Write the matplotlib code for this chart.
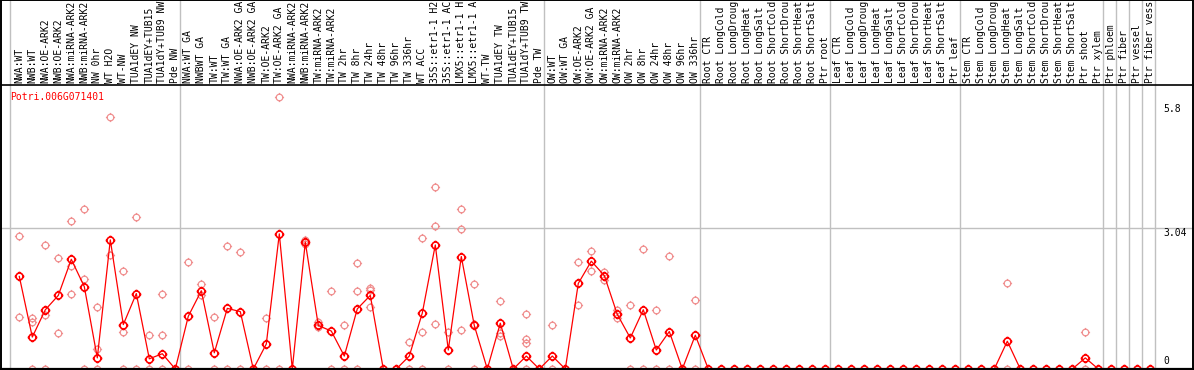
import matplotlib
matplotlib.use("Agg")
import matplotlib.pyplot as plt
from matplotlib.path import Path
import numpy as np

gene = "Potri.006G071401"

# sample labels as they show in the header (cut at 14 characters)
labels = [
    "NWA:WT", "NWB:WT", "NWA:OE-ARK2", "NWB:OE-ARK2", "NWA:miRNA-ARK2", "NWB:miRNA-ARK2",
    "NW 0hr", "WT H2O", "WT-NW", "TUA1dEY NW", "TUA1dEY+TUB15", "TUA1dY+TUB9 NW", "Pde NW",
    "NWA:WT GA", "NWBWT GA", "TW:WT", "TW:WT GA", "NWA:OE-ARK2 GA", "NWB:OE-ARK2 GA",
    "TW:OE-ARK2", "TW:OE-ARK2 GA", "NWA:miRNA-ARK2", "NWB:miRNA-ARK2", "TW:miRNA-ARK2",
    "TW:miRNA-ARK2", "TW 2hr", "TW 8hr", "TW 24hr", "TW 48hr", "TW 96hr", "TW 336hr", "WT ACC",
    "35S::etr1-1 H2", "35S::etr1-1 AC", "LMX5::etr1-1 H", "LMX5::etr1-1 A", "WT-TW",
    "TUA1dEY TW", "TUA1dEY+TUB15", "TUA1dY+TUB9 TW", "Pde TW",
    "OW:WT", "OW:WT GA", "OW:OE-ARK2", "OW:OE-ARK2 GA", "OW:miRNA-ARK2", "OW:miRNA-ARK2",
    "OW 2hr", "OW 8hr", "OW 24hr", "OW 48hr", "OW 96hr", "OW 336hr",
    "Root CTR", "Root LongCold", "Root LongDroug", "Root LongHeat", "Root LongSalt",
    "Root ShortCold", "Root ShortDrou", "Root ShortHeat", "Root ShortSalt", "Ptr root",
    "Leaf CTR", "Leaf LongCold", "Leaf LongDroug", "Leaf LongHeat", "Leaf LongSalt",
    "Leaf ShortCold", "Leaf ShortDrou", "Leaf ShortHeat", "Leaf ShortSalt", "Ptr leaf",
    "Stem CTR", "Stem LongCold", "Stem LongDroug", "Stem LongHeat", "Stem LongSalt",
    "Stem ShortCold", "Stem ShortDrou", "Stem ShortHeat", "Stem ShortSalt", "Ptr shoot",
    "Ptr xylem", "Ptr phloem", "Ptr fiber", "Ptr vessel", "Ptr fiber vess",
]

# mean expression per sample
means = [
    2.00, 0.69, 1.28, 1.59, 2.37, 1.78, 0.24, 2.79, 0.96, 1.63, 0.22, 0.33, 0.0,
    1.14, 1.69, 0.35, 1.31, 1.24, 0.0, 0.54, 2.92, 0.0, 2.74, 0.94, 0.82, 0.28, 1.30,
    1.59, 0.0, 0.0, 0.28, 1.21, 2.68, 0.41, 2.43, 0.94, 0.0, 0.99, 0.0, 0.28, 0.0,
    0.28, 0.0, 1.85, 2.33, 2.02, 1.18, 0.67, 1.28, 0.41, 0.81, 0.0, 0.73,
    0, 0, 0, 0, 0, 0, 0, 0, 0, 0,
    0, 0, 0, 0, 0, 0, 0, 0, 0, 0,
    0, 0, 0, 0.60, 0, 0, 0, 0, 0, 0.24, 0,
    0, 0, 0, 0,
]

# replicate values per sample
reps = [
    [2.87, 1.13], [1.10, 1.01, 0], [2.67, 1.16, 0], [2.39, 0.78], [3.19, 2.23, 1.62],
    [3.45, 1.95, 0], [1.35, 0.43, 0], [5.44, 2.46], [2.11, 0.80, 0], [3.29, 0],
    [0.74, 0], [1.63, 0.74, 0], [], [2.31, 0], [1.83, 1.60], [1.13, 0], [2.65, 0],
    [2.52, 0], [], [1.11, 0], [5.87, 0], [], [2.79, 2.71], [1.01, 0.90], [1.68, 0],
    [0.94, 0], [2.28, 1.68, 0], [1.75, 1.70, 1.35], [], [], [0.58, 0], [2.84, 0.80, 0],
    [3.93, 3.10, 0.98], [0.80, 0], [3.45, 3.02, 0.84], [1.84, 0.97, 0], [],
    [1.47, 0.78, 0.71], [], [1.18, 0.65, 0.57, 0], [], [0.94, 0], [],
    [2.31, 1.38], [2.55, 2.12], [2.10, 1.92], [1.28, 1.10], [1.39, 0], [2.60, 0],
    [1.27, 0], [2.45, 0], [], [1.49, 0],
    [], [], [], [], [], [], [], [], [], [],
    [], [], [], [], [], [], [], [], [], [],
    [], [], [], [1.86, 0], [], [], [], [], [], [0.80, 0], [],
    [], [], [], [],
]

group_ends = [12, 40, 52, 62, 72, 83, 84, 85, 86, 87]
y_grid = 3.04
y_ticks = ["5.8", "3.04", "0"]
y_tick_vals = [5.8, 3.04, 0]

# circle marker with four small ticks
t = np.linspace(0, 2 * np.pi, 41)
circ = Path(np.column_stack([np.cos(t), np.sin(t)]))
ticks = [Path([(0, 1), (0, 1.4)]), Path([(0, -1), (0, -1.4)]),
         Path([(1, 0), (1.4, 0)]), Path([(-1, 0), (-1.4, 0)])]
ring = Path.make_compound_path(circ, *ticks)

W, H = 1194, 370
x0, dx = 19.3, 13.0   # pixel of first sample, pixel spacing
y0, dy = 369.0, 46.28  # pixel of zero, pixels per unit

fig = plt.figure(figsize=(W / 100, H / 100), dpi=100)
ax = fig.add_axes([0, 0, 1, 1])
ax.set_xlim(-x0 / dx, (W - x0) / dx)
ax.set_ylim((y0 - H) / dy, y0 / dy)
ax.axis("off")

top = (y0 - 85) / dy
lab_y = (y0 - 83) / dy
mono = "DejaVu Sans Mono"
fs = 7.0
grey = "#c0c0c0"

# group separators and grid
seps = [-0.72] + [g + 0.36 for g in group_ends]
for s in seps:
    ax.axvline(s, color=grey, lw=1.0, zorder=1)
ax.axhline(y_grid, color=grey, lw=1.0, zorder=1)

# borders
ax.axhline(top, color="black", lw=1.2, zorder=5)
ax.axhline(0, color="black", lw=1.6, zorder=5)
for sp in [ax.get_xlim()[0] + 0.04, ax.get_xlim()[1] - 0.04]:
    ax.axvline(sp, color="black", lw=1.4, zorder=5)
ax.axhline(ax.get_ylim()[1] - 0.01, color="black", lw=1.4, zorder=5)

xs = np.arange(len(labels))
for i, lab in enumerate(labels):
    ax.text(i, lab_y, lab, rotation=90, ha="center", va="bottom",
            family=mono, fontsize=fs, color="black")

rx = [i for i, r in enumerate(reps) for _ in r]
ry = [v for r in reps for v in r]
ax.plot(rx, ry, ls="none", marker=ring, ms=6.6, mec="#f09090", mew=0.9,
        mfc="none", zorder=3, clip_on=False)
ax.plot(xs, means, color="red", lw=0.9, marker=ring, ms=7.0, mec="red",
        mew=1.2, mfc="none", zorder=4, clip_on=False)

ax.text(-0.72, (y0 - 97) / dy, gene, color="red", family=mono, fontsize=fs,
        ha="left", va="center")

offs = [(-3, "top"), (0, "top"), (3, "bottom")]
for lab, v, (o, va) in zip(y_ticks, y_tick_vals, offs):
    ax.annotate(lab, (87.98, v), xytext=(0, o), textcoords="offset pixels",
                family=mono, fontsize=fs, ha="left", va=va)

fig.savefig("out.png", dpi=100)
